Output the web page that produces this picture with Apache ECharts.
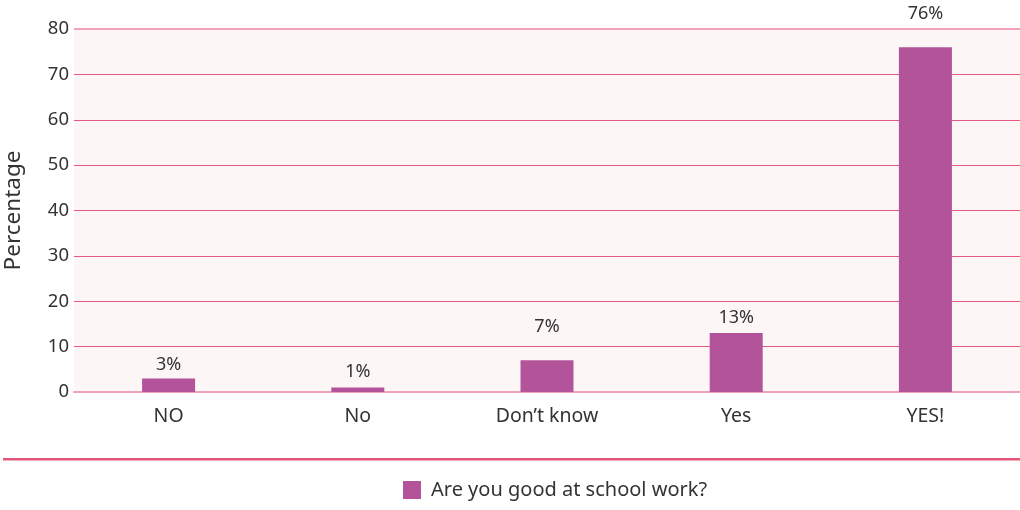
<!DOCTYPE html>
<html>
<head>
<meta charset="utf-8">
<script src="https://cdn.jsdelivr.net/npm/echarts@6/dist/echarts.min.js"></script>
<style>
  html, body { margin: 0; padding: 0; background: #ffffff; }
  #chart { width: 1020px; height: 510px; }
</style>
</head>
<body>
<div id="chart"></div>
<script>
// Survey answers and their shares (%)
const categories = ['NO', 'No', 'Don\u2019t know', 'Yes', 'YES!'];
const shares = [3, 1, 7, 13, 76];
const yTicks = [0, 10, 20, 30, 40, 50, 60, 70, 80];
const seriesName = 'Are you good at school work?';
const axisTitle = 'Percentage';

const FONT = '"Noto Sans", "Open Sans", sans-serif';
const TEXT = '#333333';
// gap between each bar top and its value label (px)
const labelGaps = [5, 7, 24, 6, 24];

const chart = echarts.init(document.getElementById('chart'), null, { renderer: 'canvas' });

chart.setOption({
  animation: false,
  textStyle: { fontFamily: FONT },
  grid: {
    left: 74, right: 0, top: 29, bottom: 118,
    containLabel: false,
    outerBoundsMode: 'none',
    show: true, backgroundColor: '#fdf6f7', borderWidth: 0
  },
  legend: {
    bottom: 5, left: 398,
    itemWidth: 18, itemHeight: 18, itemGap: 10,
    icon: 'rect',
    textStyle: { fontFamily: FONT, fontSize: 20, color: TEXT, padding: [0, 0, 0, 5] },
    data: [seriesName]
  },
  xAxis: {
    type: 'category',
    data: categories,
    axisLine: { show: true, lineStyle: { color: '#f0a3b6', width: 2 } },
    axisTick: { show: false },
    axisLabel: { fontFamily: FONT, fontSize: 19.5, color: TEXT, margin: 14 }
  },
  yAxis: {
    type: 'value',
    min: yTicks[0], max: yTicks[yTicks.length - 1], interval: 10,
    name: axisTitle,
    nameLocation: 'middle',
    nameGap: 49,
    nameTextStyle: { fontFamily: FONT, fontSize: 22.5, color: TEXT },
    axisLine: { show: false },
    axisTick: { show: false },
    axisLabel: { fontFamily: FONT, fontSize: 18.5, color: TEXT, margin: 5 },
    splitLine: { show: true, lineStyle: { color: '#e55a7e', width: 1 } }
  },
  series: [{
    name: seriesName,
    type: 'bar',
    data: shares.map((v, i) => ({ value: v, label: { distance: labelGaps[i] } })),
    barWidth: 53,
    itemStyle: { color: '#b35399' },
    label: {
      show: true, position: 'top', distance: 10,
      formatter: p => p.value + '%',
      fontFamily: FONT, fontSize: 18, color: TEXT
    },
    markLine: {
      silent: true, symbol: ['none', 'none'],
      label: { show: false },
      lineStyle: { color: '#f0a3b6', width: 2, type: 'solid' },
      data: [{ yAxis: yTicks[yTicks.length - 1] }]
    }
  }],
  graphic: [{
    type: 'rect',
    shape: { x: 3, y: 458, width: 1017, height: 2 },
    style: { fill: '#e05777' }
  }, {
    type: 'rect',
    shape: { x: 3, y: 460, width: 1017, height: 1 },
    style: { fill: '#f3a9bb' }
  }]
});
</script>
</body>
</html>
